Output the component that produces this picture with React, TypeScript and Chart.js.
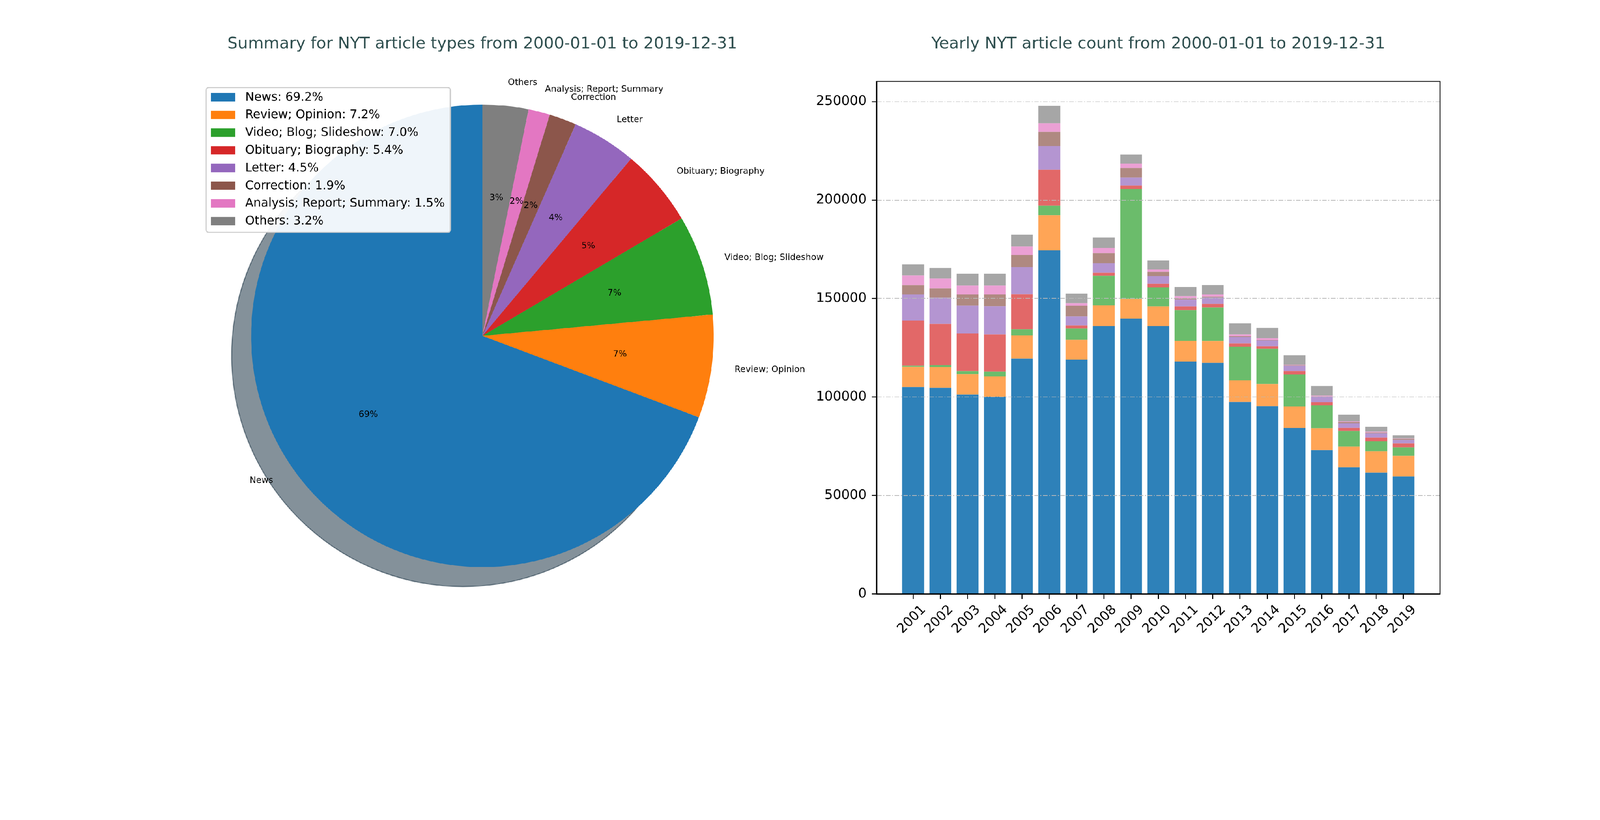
import { useEffect, useRef, useState } from 'react';
import Chart from 'chart.js/auto';

// yearly counts, stacked bottom to top in this order
const years = [2001, 2002, 2003, 2004, 2005, 2006, 2007, 2008, 2009, 2010, 2011, 2012, 2013, 2014, 2015, 2016, 2017, 2018, 2019];
const news = [105100, 104600, 101300, 100200, 119500, 174500, 119000, 136100, 139900, 136100, 118000, 117400, 97500, 95400, 84300, 73050, 64350, 61600, 59650];
const review = [10300, 10600, 10350, 10300, 11850, 17850, 10050, 10350, 9900, 9900, 10600, 11000, 11000, 11150, 11000, 11150, 10500, 10950, 10450];
const video = [500, 1100, 1450, 2400, 3100, 4850, 5750, 15050, 55900, 9650, 15550, 17000, 17100, 17900, 16200, 11600, 7850, 5050, 4400];
const obituary = [22900, 20900, 19200, 18900, 17850, 18200, 1600, 1600, 1750, 1850, 1850, 1850, 1600, 1400, 1650, 1630, 1630, 1820, 2000];
const letter = [13350, 13350, 14050, 14300, 13700, 12100, 4600, 4850, 4000, 3900, 3550, 3350, 3350, 2900, 2700, 2820, 2450, 2130, 1760];
const correction = [4600, 4700, 5750, 6000, 6200, 7100, 5300, 5050, 4850, 2100, 350, 350, 350, 150, 250, 100, 500, 500, 500];
const analysis = [5060, 4950, 4500, 4500, 4250, 4400, 1400, 2650, 2200, 1350, 1250, 1150, 900, 1000, 350, 310, 310, 380, 190];
const others = [5530, 5400, 6000, 6100, 6100, 8850, 4850, 5400, 4600, 4600, 4850, 4850, 5650, 5300, 4800, 4890, 3450, 2390, 1630];
const yTicks = [0, 50000, 100000, 150000, 200000, 250000];

// pie summary
const pieLabels = ['News', 'Review; Opinion', 'Video; Blog; Slideshow', 'Obituary; Biography', 'Letter', 'Correction', 'Analysis; Report; Summary', 'Others'];
const pieShares = [69.2, 7.2, 7.0, 5.4, 4.5, 1.9, 1.5, 3.2];
const piePctLabels = ['69%', '7%', '7%', '5%', '4%', '2%', '2%', '3%'];

const pieColors = ['#1f77b4', '#ff7f0e', '#2ca02c', '#d62728', '#9467bd', '#8c564b', '#e377c2', '#7f7f7f'];
const barColors = ['rgb(46,129,185)', 'rgb(255,165,86)', 'rgb(107,188,107)', 'rgb(226,104,104)', 'rgb(180,149,209)', 'rgb(175,137,129)', 'rgb(235,160,212)', 'rgb(166,166,166)'];

const FONT = '"DejaVu Sans", sans-serif';
const W = 4952;
const H = 2100;

const plotTitle = {
  id: 'plotTitle',
  afterDraw(chart: any, _args: any, opts: any) {
    const { ctx, chartArea } = chart;
    ctx.save();
    ctx.font = `50px ${FONT}`;
    ctx.fillStyle = '#2f4f4f';
    ctx.textAlign = 'center';
    ctx.textBaseline = 'alphabetic';
    ctx.fillText(opts.text, (chartArea.left + chartArea.right) / 2, opts.baseline);
    ctx.restore();
  },
};

function hexRgb(hex: string) {
  const n = parseInt(hex.slice(1), 16);
  return [(n >> 16) & 255, (n >> 8) & 255, n & 255];
}

const pieShadow = {
  id: 'pieShadow',
  beforeDatasetsDraw(chart: any) {
    const { ctx } = chart;
    const meta = chart.getDatasetMeta(0);
    const colors = chart.data.datasets[0].backgroundColor as string[];
    meta.data.forEach((el: any, i: number) => {
      const { x, y, startAngle, endAngle, outerRadius } = el.getProps(['x', 'y', 'startAngle', 'endAngle', 'outerRadius'], true);
      const off = outerRadius * 0.084;
      const sx = x - off;
      const sy = y + off;
      const [r, g, b] = hexRgb(colors[i]).map((c) => Math.round(c * 0.3));
      const col = `rgba(${r},${g},${b},0.5)`;
      ctx.save();
      ctx.fillStyle = col;
      ctx.beginPath();
      ctx.moveTo(sx, sy);
      ctx.arc(sx, sy, outerRadius, startAngle, endAngle);
      ctx.closePath();
      ctx.fill();
      ctx.strokeStyle = col;
      ctx.lineWidth = 3;
      ctx.beginPath();
      ctx.arc(sx, sy, outerRadius, startAngle, endAngle);
      ctx.stroke();
      ctx.restore();
    });
  },
};

const pieText = {
  id: 'pieText',
  afterDatasetsDraw(chart: any) {
    const { ctx } = chart;
    const meta = chart.getDatasetMeta(0);
    const names = chart.data.labels as string[];
    const pcts = [...piePctLabels].reverse();
    ctx.save();
    ctx.font = `27px ${FONT}`;
    ctx.fillStyle = '#000';
    ctx.textBaseline = 'middle';
    meta.data.forEach((el: any, i: number) => {
      const { x, y, startAngle, endAngle, outerRadius } = el.getProps(['x', 'y', 'startAngle', 'endAngle', 'outerRadius'], true);
      const mid = (startAngle + endAngle) / 2;
      const c = Math.cos(mid);
      const s = Math.sin(mid);
      ctx.textAlign = c > 0 ? 'left' : 'right';
      ctx.fillText(names[i], x + 1.1 * outerRadius * c, y + 1.1 * outerRadius * s);
      ctx.textAlign = 'center';
      ctx.fillText(pcts[i], x + 0.6 * outerRadius * c, y + 0.6 * outerRadius * s);
    });
    ctx.restore();
  },
};

const pieLegend = {
  id: 'pieLegend',
  afterDraw(chart: any, _args: any, opts: any) {
    const { ctx } = chart;
    const left = opts.left;
    const top = opts.top;
    const rowH = 54.8;
    ctx.save();
    ctx.font = `37px ${FONT}`;
    const texts = pieLabels.map((l, i) => `${l}: ${pieShares[i].toFixed(1)}%`);
    const maxW = Math.max(...texts.map((t) => ctx.measureText(t).width));
    const boxW = 15 + 75 + 31 + maxW + 17;
    const boxH = 30 + rowH * (texts.length - 1) + 35;
    ctx.beginPath();
    ctx.roundRect(left, top, boxW, boxH, 8);
    ctx.fillStyle = 'rgba(255,255,255,0.93)';
    ctx.fill();
    ctx.lineWidth = 3.5;
    ctx.strokeStyle = 'rgb(204,204,204)';
    ctx.stroke();
    texts.forEach((t, i) => {
      const cy = top + 30 + i * rowH;
      ctx.fillStyle = pieColors[i];
      ctx.fillRect(left + 15, cy - 13, 75, 26);
      ctx.fillStyle = '#000';
      ctx.textAlign = 'left';
      ctx.textBaseline = 'middle';
      ctx.fillText(t, left + 121, cy + 1);
    });
    ctx.restore();
  },
};

const frame = {
  id: 'frame',
  afterDraw(chart: any) {
    const { ctx, chartArea } = chart;
    ctx.save();
    ctx.lineWidth = 3;
    ctx.strokeStyle = '#000';
    ctx.strokeRect(chartArea.left, chartArea.top, chartArea.right - chartArea.left, chartArea.bottom - chartArea.top);
    ctx.restore();
  },
};

function PieChart() {
  const canvasRef = useRef<HTMLCanvasElement>(null);
  useEffect(() => {
    if (!canvasRef.current) return;
    const chart = new Chart(canvasRef.current, {
      type: 'pie',
      data: {
        labels: [...pieLabels].reverse(),
        datasets: [
          {
            data: [...pieShares].reverse(),
            backgroundColor: [...pieColors].reverse(),
            borderWidth: 0,
          },
        ],
      },
      options: {
        animation: false,
        responsive: false,
        devicePixelRatio: 1,
        layout: { padding: { left: 777, right: 491, top: 324, bottom: 344 } },
        plugins: {
          legend: { display: false },
          tooltip: { enabled: false },
          plotTitle: { text: 'Summary for NYT article types from 2000-01-01 to 2019-12-31', baseline: 150 },
          pieLegend: { left: 638, top: 271 },
        } as any,
      },
      plugins: [pieShadow, pieText, pieLegend, plotTitle],
    });
    return () => chart.destroy();
  }, []);
  return <canvas ref={canvasRef} width={2700} height={H} style={{ position: 'absolute', left: 0, top: 0, width: 2700, height: H }} />;
}

function BarChart() {
  const canvasRef = useRef<HTMLCanvasElement>(null);
  useEffect(() => {
    if (!canvasRef.current) return;
    const series = [news, review, video, obituary, letter, correction, analysis, others];
    const chart = new Chart(canvasRef.current, {
      type: 'bar',
      data: {
        datasets: series.map((vals, k) => ({
          label: pieLabels[k],
          data: vals.map((v, i) => ({ x: i, y: v })),
          backgroundColor: barColors[k],
          borderWidth: 0,
          barPercentage: 0.8,
          categoryPercentage: 1,
        })),
      },
      options: {
        animation: false,
        responsive: false,
        devicePixelRatio: 1,
        layout: { padding: { left: 0, right: 495, top: 252, bottom: 0 } },
        plugins: {
          legend: { display: false },
          tooltip: { enabled: false },
          plotTitle: { text: 'Yearly NYT article count from 2000-01-01 to 2019-12-31', baseline: 150 },
        } as any,
        scales: {
          x: {
            type: 'linear',
            min: -1.34,
            max: 19.34,
            stacked: true,
            offset: false,
            afterBuildTicks: (axis: any) => {
              axis.ticks = years.map((_, i) => ({ value: i }));
            },
            afterFit: (axis: any) => {
              axis.height = 261;
            },
            grid: { offset: false, drawOnChartArea: false, drawTicks: true, tickLength: 15, tickWidth: 3, tickColor: '#000' },
            border: { color: '#000', width: 3 },
            ticks: {
              autoSkip: false,
              minRotation: 45,
              maxRotation: 45,
              padding: 10,
              labelOffset: 33,
              color: '#000',
              font: { family: FONT, size: 41 },
              callback: (v: any) => String(years[v as number] ?? ''),
            },
          },
          y: {
            type: 'linear',
            min: 0,
            max: 260300,
            stacked: true,
            afterBuildTicks: (axis: any) => {
              axis.ticks = yTicks.map((v) => ({ value: v }));
            },
            afterFit: (axis: any) => {
              axis.width = 237;
            },
            grid: { color: '#b8b8b8', lineWidth: 2, z: 1, drawTicks: true, tickLength: 15, tickWidth: 3, tickColor: '#000' },
            border: { color: '#000', width: 3, z: 1, dash: [14, 5, 3, 5] },
            ticks: {
              padding: 16,
              color: '#000',
              font: { family: FONT, size: 41 },
              callback: (v: any) => String(v),
            },
          },
        },
      },
      plugins: [frame, plotTitle],
    });
    return () => chart.destroy();
  }, []);
  return <canvas ref={canvasRef} width={2476} height={H} style={{ position: 'absolute', left: 2476, top: 0, width: 2476, height: H }} />;
}

export default function App() {
  // the window may be narrower than the figure; shrink the whole figure to fit its width
  const [scale, setScale] = useState(() => (typeof window !== 'undefined' ? Math.min(1, window.innerWidth / W) : 1));
  useEffect(() => {
    document.body.style.margin = '0';
    document.body.style.overflow = 'hidden';
    const onResize = () => setScale(Math.min(1, window.innerWidth / W));
    onResize();
    window.addEventListener('resize', onResize);
    return () => window.removeEventListener('resize', onResize);
  }, []);
  return (
    <div style={{ position: 'absolute', left: 0, top: 0, width: W * scale, height: H * scale, overflow: 'hidden' }}>
      <div
        style={{
          position: 'absolute',
          left: 0,
          top: 0,
          width: W,
          height: H,
          background: '#fff',
          fontFamily: FONT,
          transform: `scale(${scale})`,
          transformOrigin: '0 0',
        }}
      >
        <PieChart />
        <BarChart />
      </div>
    </div>
  );
}
